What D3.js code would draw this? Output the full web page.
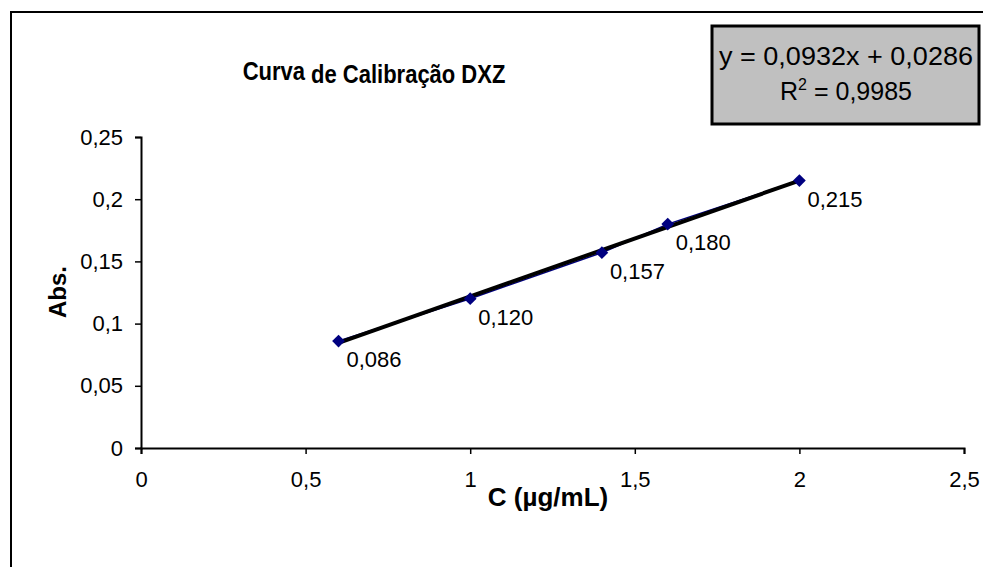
<!DOCTYPE html>
<html>
<head>
<meta charset="utf-8">
<script src="https://cdn.jsdelivr.net/npm/d3@7"></script>
<style>
  html, body { margin: 0; padding: 0; background: #fff; }
  svg { display: block; font-family: "Liberation Sans", Arial, sans-serif; }
</style>
</head>
<body>
<svg id="chart" width="983" height="567"></svg>
<script>
// ---- data ----
const concentrations = [0.6, 1.0, 1.4, 1.6, 2.0];
const absorbances = [0.086, 0.120, 0.157, 0.180, 0.215];
const xTicks = [0, 0.5, 1, 1.5, 2, 2.5];
const yTicks = [0, 0.05, 0.1, 0.15, 0.2, 0.25];
const trendSlope = 0.0932;
const trendIntercept = 0.0286;
const titleParts = ["Curva", " de Calibração DXZ"];
const equationText = "y = 0,0932x + 0,0286";
const r2Value = "0,9985";
const xAxisTitle = "C (\u00b5g/mL)";
const yAxisTitle = "Abs.";

const svg = d3.select("#chart");
const comma = s => String(s).replace(".", ",");

// outer frame (extends beyond the visible area to the right / bottom)
svg.append("rect").attr("x", 11).attr("y", 12).attr("width", 1000).attr("height", 600)
  .attr("fill", "#fff").attr("stroke", "#000").attr("stroke-width", 2);

const x = d3.scaleLinear().domain([0, 2.5]).range([141, 964]);
const y = d3.scaleLinear().domain([0, 0.25]).range([448, 137]);

// axes
const xAxis = svg.append("g").attr("transform", "translate(0,448)")
  .call(d3.axisBottom(x).tickValues(xTicks).tickFormat(comma).tickSizeOuter(0).tickSize(6).tickPadding(17));
const yAxis = svg.append("g").attr("transform", "translate(141,0)")
  .call(d3.axisLeft(y).tickValues(yTicks).tickFormat(comma).tickSizeOuter(0).tickSize(6).tickPadding(12));
[xAxis, yAxis].forEach(g => {
  g.select(".domain").attr("stroke", "#000").attr("stroke-width", 2);
  g.selectAll(".tick line").attr("stroke", "#000").attr("stroke-width", 1.5);
  g.selectAll(".tick text").attr("fill", "#000").attr("font-size", 22)
    .attr("font-family", "'Liberation Sans', Arial, sans-serif");
});

// data line
const pts = concentrations.map((c, i) => [c, absorbances[i]]);
svg.append("path").datum(pts)
  .attr("d", d3.line().x(d => x(d[0])).y(d => y(d[1])))
  .attr("fill", "none").attr("stroke", "#000080").attr("stroke-width", 1.5);

// trendline
const xMin = d3.min(concentrations), xMax = d3.max(concentrations);
svg.append("line")
  .attr("x1", x(xMin)).attr("y1", y(trendSlope * xMin + trendIntercept))
  .attr("x2", x(xMax)).attr("y2", y(trendSlope * xMax + trendIntercept))
  .attr("stroke", "#000").attr("stroke-width", 4);

// markers
svg.selectAll(".mk").data(pts).enter().append("path")
  .attr("transform", d => `translate(${x(d[0])},${y(d[1])}) rotate(45)`)
  .attr("d", "M-4.5,-4.5H4.5V4.5H-4.5Z")
  .attr("fill", "#000080");

// data labels
svg.selectAll(".lbl").data(pts).enter().append("text")
  .attr("x", d => x(d[0]) + 8).attr("y", d => y(d[1]) + 26)
  .attr("font-size", 22).attr("fill", "#000")
  .text(d => comma(d3.format(".3f")(d[1])));

// title
const t = svg.append("text").attr("transform", "translate(374,83) scale(0.88,1)").attr("text-anchor", "middle")
  .attr("font-size", 25).attr("font-weight", "bold").attr("fill", "#000");
t.append("tspan").attr("dy", -3).text(titleParts[0]);
t.append("tspan").attr("dy", 3).text(titleParts[1]);

// equation box
svg.append("rect").attr("x", 712).attr("y", 26).attr("width", 267).attr("height", 98)
  .attr("fill", "#c0c0c0").attr("stroke", "#000").attr("stroke-width", 3);
svg.append("text").attr("x", 846).attr("y", 65).attr("text-anchor", "middle")
  .attr("font-size", 25).attr("fill", "#000")
  .attr("textLength", 254).attr("lengthAdjust", "spacingAndGlyphs")
  .text(equationText);
const r2 = svg.append("text").attr("x", 846).attr("y", 100).attr("text-anchor", "middle")
  .attr("font-size", 25).attr("fill", "#000");
r2.append("tspan").text("R");
r2.append("tspan").attr("font-size", 16).attr("dy", -10).text("2");
r2.append("tspan").attr("dy", 10).text(" = " + r2Value);

// axis titles
svg.append("text").attr("x", 548).attr("y", 506).attr("text-anchor", "middle")
  .attr("font-size", 26).attr("font-weight", "bold").attr("fill", "#000")
  .text(xAxisTitle);
svg.append("text").attr("transform", "translate(66,292) rotate(-90)").attr("text-anchor", "middle")
  .attr("font-size", 24).attr("font-weight", "bold").attr("fill", "#000")
  .text(yAxisTitle);
</script>
</body>
</html>
